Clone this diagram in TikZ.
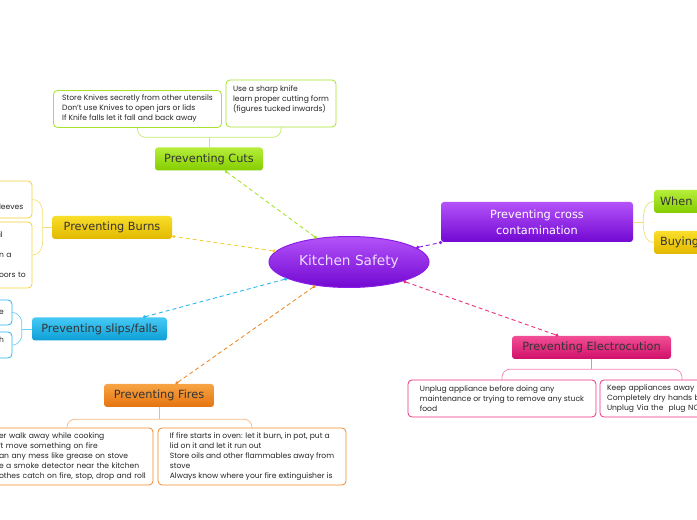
\documentclass[tikz,border=0pt]{standalone}
\usepackage{fontspec}
\setmainfont{DejaVu Sans}
\newfontfamily\notefont{Poppins}
\usepackage{xcolor}
\definecolor{cutstop}{HTML}{B6EE3A}
\definecolor{cutsbot}{HTML}{84CC00}
\definecolor{cutsline}{HTML}{A6E22E}
\definecolor{burnstop}{HTML}{F9DE2A}
\definecolor{burnsbot}{HTML}{E2B800}
\definecolor{burnsline}{HTML}{F2D23A}
\definecolor{slipstop}{HTML}{46CAF5}
\definecolor{slipsbot}{HTML}{0C9ED6}
\definecolor{slipsline}{HTML}{2AB8EE}
\definecolor{firestop}{HTML}{F8A444}
\definecolor{firesbot}{HTML}{E47410}
\definecolor{firesline}{HTML}{F08A2A}
\definecolor{crosstop}{HTML}{B453F9}
\definecolor{crossbot}{HTML}{7208D2}
\definecolor{crossline}{HTML}{8A1EE6}
\definecolor{electop}{HTML}{F24E95}
\definecolor{elecbot}{HTML}{D0106A}
\definecolor{elecline}{HTML}{E8307E}
\definecolor{roottext}{HTML}{EEDDFF}
\usetikzlibrary{arrows.meta, shapes.geometric}

\begin{document}
\begin{tikzpicture}[
  x=1pt, y=1pt,
  branch/.style={rounded corners=3pt, minimum height=23pt, inner sep=0pt,
                 font=\fontsize{11.3}{13}\selectfont, text=black!80},
  cutsbox/.style={branch, top color=cutstop, bottom color=cutsbot},
  burnsbox/.style={branch, top color=burnstop, bottom color=burnsbot},
  slipsbox/.style={branch, top color=slipstop, bottom color=slipsbot},
  firesbox/.style={branch, top color=firestop, bottom color=firesbot},
  crossbox/.style={branch, top color=crosstop, bottom color=crossbot},
  elecbox/.style={branch, top color=electop, bottom color=elecbot},
  root/.style={ellipse, draw=crossline, line width=1pt, top color=crosstop,
               bottom color=crossbot, minimum width=160pt, minimum height=51pt,
               text=roottext, font=\fontsize{13.7}{16}\selectfont},
  note/.style={draw, fill=white, rounded corners=4pt, line width=0.8pt, align=left,
               inner xsep=5pt, inner ysep=0pt,
               font=\notefont\fontsize{7.6}{10}\selectfont, text=black!85},
  link/.style={{Circle[length=3.2pt]}-{Circle[length=3.2pt]},
               dash pattern=on 4pt off 3pt, line width=0.9pt},
  brace/.style={line width=0.7pt, rounded corners=8pt}
]
\useasboundingbox (0,0) rectangle (697,520);
\clip (0,0) rectangle (697,520);

\node[root] (root) at (349,258) {Kitchen Safety};

% cuts
\node[cutsbox, minimum width=108pt] (cuts) at (209,361) {Preventing Cuts};
\node[note, draw=cutsline, minimum width=168pt, minimum height=37pt] (cutsA) at (137.5,411)
  {Store Knives secretly from other utensils\\Don’t use Knives to open jars or lids\\If Knife falls let it fall and back away};
\node[note, draw=cutsline, minimum width=110pt, minimum height=47pt] (cutsB) at (281,416.5)
  {Use a sharp knife\\learn proper cutting form\\(figures tucked inwards)\\\mbox{}};

% burns
\node[burnsbox, minimum width=120pt] (burns) at (112,292.5) {Preventing Burns};
\node[note, draw=burnsline, text width=28pt, minimum height=37pt] (burnsA) at (13,320.5)
  {\mbox{}\\\mbox{}\\leeves};
\node[note, draw=burnsline, text width=28pt, minimum height=66pt] (burnsB) at (13,265)
  {il\\\mbox{}\\n a\\\mbox{}\\oors to};

% slips
\node[slipsbox, minimum width=135pt] (slips) at (99.5,191) {Preventing slips/falls};
\node[note, draw=slipsline, text width=8pt, minimum height=25pt] (slipsA) at (3,207.5) {e};
\node[note, draw=slipsline, text width=8pt, minimum height=26pt] (slipsB) at (3,175) {h\\\mbox{}};

% fires
\node[firesbox, minimum width=110pt] (fires) at (159,124.5) {Preventing Fires};
\node[note, draw=firesline, text width=149pt, minimum height=57pt] (firesA) at (73.5,63.5)
  {er walk away while cooking\\’t move something on fire\\an any mess like grease on stove\\e a smoke detector near the kitchen\\othes catch on fire, stop, drop and roll};
\node[note, draw=firesline, minimum width=188pt, minimum height=57pt] (firesB) at (252,63.5)
  {If fire starts in oven: let it burn, in pot, put a\\lid on it and let it run out\\Store oils and other flammables away from\\stove\\Always know where your fire extinguisher is};

% cross contamination
\node[crossbox, minimum width=192pt, minimum height=40pt, align=center, text=white,
      font=\fontsize{11.3}{16}\selectfont] (cross) at (537,298) {Preventing cross\\contamination};
\node[cutsbox, text width=68pt, align=left, inner xsep=6pt] (when) at (694,318.5) {When};
\node[burnsbox, text width=68pt, align=left, inner xsep=6pt] (buying) at (694,277.5) {Buying};

% electrocution
\node[elecbox, minimum width=159pt] (elec) at (591.5,172.5) {Preventing Electrocution};
\node[note, draw=elecline, minimum width=188pt, minimum height=37pt] (elecA) at (502,121.5)
  {Unplug appliance before doing any\\maintenance or trying to remove any stuck\\food};
\node[note, draw=elecline, text width=150pt, inner xsep=7pt, minimum height=37pt] (elecB) at (682,121.5)
  {Keep appliances away f\\Completely dry hands b\\Unplug Via the\ \ plug NO};

% braces
\coordinate (cutsJ) at ([yshift=10pt]cuts.north);
\draw[brace, draw=cutsline!70] (cuts.north) -- (cutsJ);
\draw[brace, draw=cutsline!70] (cutsA.south) |- (cutsJ) -| (cutsB.south);
\coordinate (burnsJ) at ([xshift=-9pt]burns.west);
\draw[brace, draw=burnsline!70] (burns.west) -- (burnsJ);
\draw[brace, draw=burnsline!70] (burnsA.east) to[out=0, in=90] (burnsJ) to[out=-90, in=0] (burnsB.east);
\coordinate (slipsJ) at ([xshift=-10pt]slips.west);
\draw[brace, draw=slipsline!70] (slips.west) -- (slipsJ);
\draw[brace, draw=slipsline!70] (slipsA.east) to[out=0, in=90] (slipsJ) to[out=-90, in=0] (slipsB.east);
\coordinate (firesJ) at ([yshift=-12pt]fires.south);
\coordinate (firesAtop) at ([xshift=-6.5pt]firesA.north);
\draw[brace, draw=firesline!60] (fires.south) -- (firesJ);
\draw[brace, draw=firesline!60] (firesAtop) |- (firesJ) -| (firesB.north);
\coordinate (crossJ) at ([xshift=10pt]cross.east);
\draw[brace, draw=burnsline!70] (cross.east) -- (crossJ);
\draw[brace, draw=cutsline!50!burnsline!70] (when.west) to[out=180, in=90] (crossJ);
\draw[brace, draw=burnsline!70] (crossJ) to[out=-90, in=180] (buying.west);
\coordinate (elecJ) at ([yshift=-10pt]elec.south);
\draw[brace, draw=elecline!60] (elec.south) -- (elecJ);
\draw[brace, draw=elecline!60] (elecA.north) |- (elecJ) -| (elecB.north);

% links
\draw[link, draw=cutsline] (root) -- (cuts);
\draw[link, draw=burnsline] (root) -- (burns);
\draw[link, draw=slipsline] (root) -- (slips);
\draw[link, draw=firesline] (root) -- (fires);
\draw[link, draw=crossline] (root) -- (cross);
\draw[link, draw=elecline] (root) -- (elec);
\end{tikzpicture}
\end{document}
